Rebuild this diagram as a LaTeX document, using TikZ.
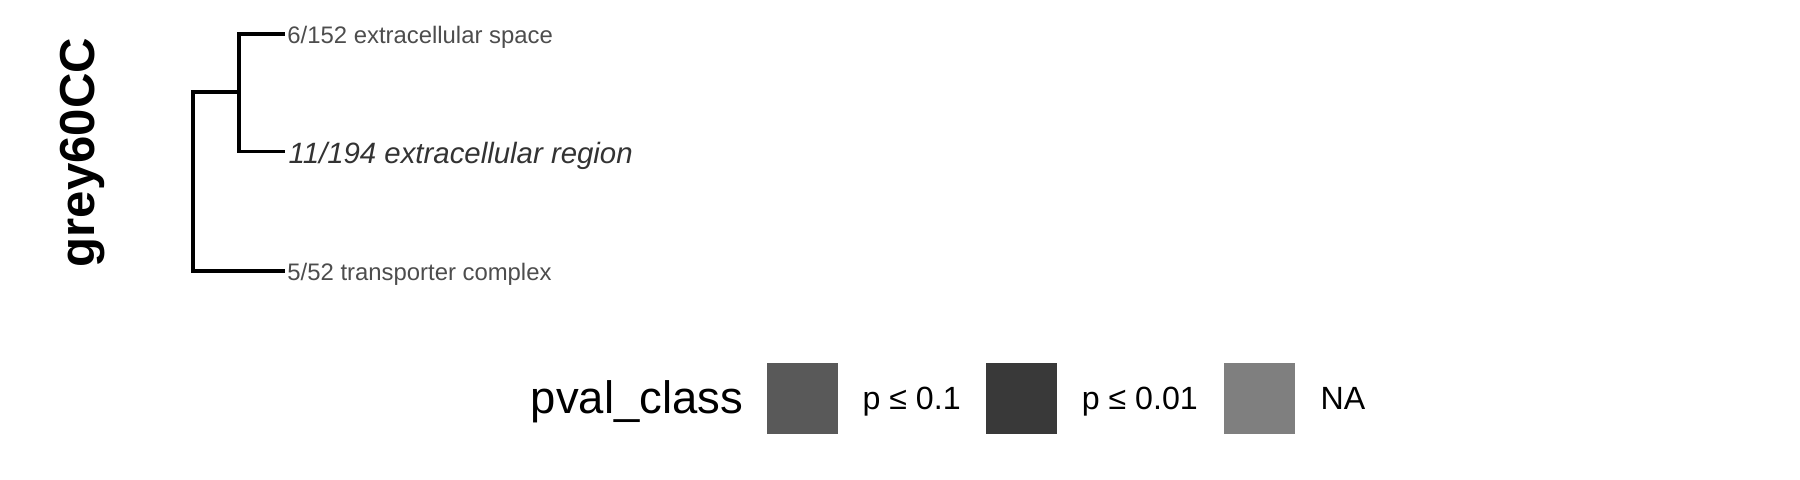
\documentclass[tikz,border=0pt]{standalone}
\usepackage{fontspec}
\setmainfont{Liberation Sans}
\definecolor{grey30}{HTML}{4D4D4D}
\definecolor{grey20}{HTML}{333333}
\definecolor{keyA}{HTML}{595959}
\definecolor{keyB}{HTML}{393939}
\definecolor{keyC}{HTML}{7F7F7F}
\begin{document}
\begin{tikzpicture}[x=0.5pt,y=-0.5pt,
  branch/.style={line width=1.7pt, line join=miter, line cap=butt, black},
  termlabel/.style={anchor=base west, inner sep=0pt, text=grey30, font=\fontsize{10.4pt}{12pt}\selectfont},
  termitalic/.style={anchor=base west, inner sep=0pt, text=grey20, font=\fontsize{12.8pt}{15pt}\selectfont\itshape},
  modtitle/.style={rotate=90, inner sep=0pt, font=\fontsize{21.4pt}{25pt}\selectfont\bfseries},
  lgtitle/.style={anchor=base west, inner sep=0pt, font=\fontsize{19.8pt}{23pt}\selectfont},
  lgtext/.style={anchor=base west, inner sep=0pt, font=\fontsize{14pt}{17pt}\selectfont},
  lgbox/.style={draw=none, inner sep=0pt, minimum width=31pt, minimum height=31pt}]
\useasboundingbox (0,0) rectangle (1568,418);

% module title
\node[modtitle] (mod) at (72,133) {grey60CC};

% tree coordinates
\coordinate (root) at (168,80);
\coordinate (inner) at (208,80);
\coordinate (tip1) at (248,30);
\coordinate (tip2) at (248,132);
\coordinate (tip3) at (248,236);

% labels
\node[termlabel] (l1) at (250,38) {6/152 extracellular space};
\node[termitalic] (l2) at (251,142) {11/194 extracellular region};
\node[termlabel] (l3) at (250,244) {5/52 transporter complex};

% branches
\draw[branch] (inner) -- (root) |- (tip3);
\draw[branch] (tip1) -| (inner) |- (tip2);

% legend
\node[lgtitle] (lt) at (462,360) {pval\_class};
\node[lgbox, fill=keyA] (k1) at (699,347) {};
\node[lgtext] (t1) at (751,357) {p ≤ 0.1};
\node[lgbox, fill=keyB] (k2) at (890,347) {};
\node[lgtext] (t2) at (942,357) {p ≤ 0.01};
\node[lgbox, fill=keyC] (k3) at (1097,347) {};
\node[lgtext] (t3) at (1150,357) {NA};
\end{tikzpicture}
\end{document}
